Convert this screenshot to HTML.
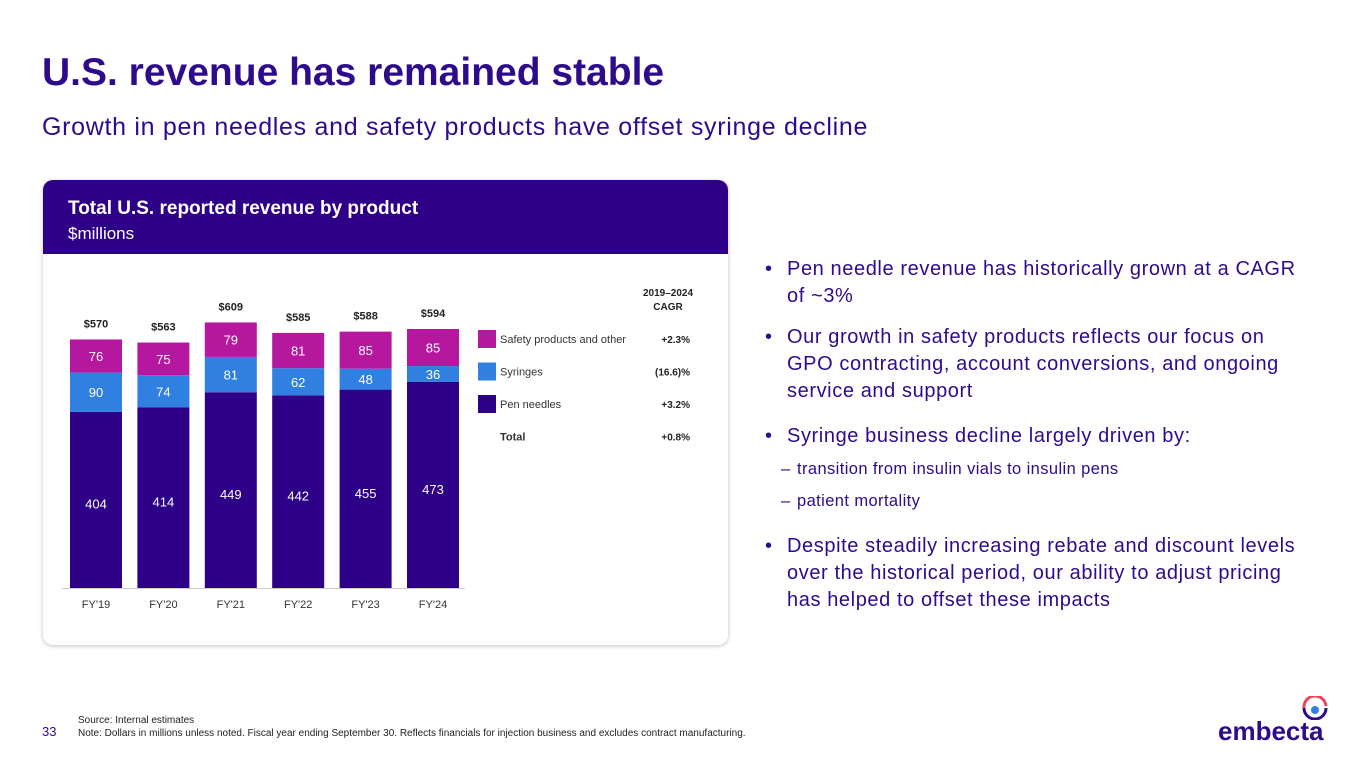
<!DOCTYPE html>
<html><head><meta charset="utf-8"><style>
body{margin:0;width:1365px;height:768px;background:#fff;font-family:"Liberation Sans",sans-serif;position:relative;overflow:hidden}
.abs{position:absolute}
h1{position:absolute;left:42px;top:51px;margin:0;font-size:39px;font-weight:bold;color:#2e0a8c}
.sub{left:42px;top:113px;font-size:25px;color:#2e0a8c;letter-spacing:0.7px}
.card{left:43px;top:180px;width:685px;height:465px;border-radius:10px;box-shadow:0 1px 4px rgba(0,0,0,.25);overflow:hidden;background:#fff}
.hdr{left:0;top:0;width:685px;height:74px;background:#2e0087;color:#fff}
ul{position:absolute;left:765px;top:256px;width:590px;margin:0;padding:0;list-style:none;color:#2e0a8c;font-size:20px;letter-spacing:0.6px;line-height:27px;white-space:nowrap}
li{position:relative;padding-left:22px;margin-bottom:16px}
li:before{content:"•";position:absolute;left:0}
li.d{padding-left:32px;font-size:16.5px;letter-spacing:0.4px;line-height:26px;margin-bottom:6px}
li.d:before{content:"–";left:16px}
.foot{left:78px;top:714px;font-size:10px;color:#222;line-height:13px}
</style></head><body>
<h1>U.S. revenue has remained stable</h1>
<div class="abs sub">Growth in pen needles and safety products have offset syringe decline</div>
<div class="abs card">
 <div class="abs hdr">
  <div class="abs" style="left:25px;top:18px;font-size:19px;font-weight:bold">Total U.S. reported revenue by product</div>
  <div class="abs" style="left:25px;top:44px;font-size:17px">$millions</div>
 </div>
</div>
<svg class="abs" style="left:0;top:0" width="1365" height="768" id="chart"></svg>
<ul>
<li style="margin-bottom:14px">Pen needle revenue has historically grown at a CAGR<br>of ~3%</li>
<li style="margin-bottom:18px">Our growth in safety products reflects our focus on<br>GPO contracting, account conversions, and ongoing<br>service and support</li>
<li style="margin-bottom:6px">Syringe business decline largely driven by:</li>
<li class="d">transition from insulin vials to insulin pens</li>
<li class="d" style="margin-bottom:19px">patient mortality</li>
<li>Despite steadily increasing rebate and discount levels<br>over the historical period, our ability to adjust pricing<br>has helped to offset these impacts</li>
</ul>
<div class="abs" style="left:42px;top:724px;font-size:13px;color:#2e0a8c">33</div>
<div class="abs foot">Source: Internal estimates<br>Note: Dollars in millions unless noted. Fiscal year ending September 30. Reflects financials for injection business and excludes contract manufacturing.</div>
<div class="abs" style="left:1218px;top:716px;font-size:26px;font-weight:bold;color:#2e0a8c">embecta</div>
<svg class="abs" style="left:1300px;top:696px" width="30" height="24"><path d="M4 12 A10 10 0 0 1 26 10" stroke="#e8475a" stroke-width="3" fill="none"/><path d="M4 12 A10 10 0 0 0 26 12" stroke="#2e0a8c" stroke-width="3" fill="none"/><circle cx="15" cy="14" r="4" fill="#2f80e0"/></svg>
<script>
const categories=["FY'19","FY'20","FY'21","FY'22","FY'23","FY'24"];
const penNeedles=[404,414,449,442,455,473];
const syringes=[90,74,81,62,48,36];
const safety=[76,75,79,81,85,85];
const totals=["$570","$563","$609","$585","$588","$594"];
const legendNames=["Safety products and other","Syringes","Pen needles","Total"];
const cagrValues=["+2.3%","(16.6)%","+3.2%","+0.8%"];
const colors=["#b5179e","#2f80e0","#2e0087"];
const svg=document.getElementById('chart');const NS="http://www.w3.org/2000/svg";
const base=588,k=259/594,x0=70,step=67.4,bw=52;
const y=v=>base-v*k, x=i=>x0+i*step;
function mk(t,a,txt){const e=document.createElementNS(NS,t);for(const n in a)e.setAttribute(n,a[n]);if(txt!==undefined)e.textContent=txt;svg.appendChild(e);return e;}
const ax=mk('line',{x1:62,x2:465,y1:base+0.5,y2:base+0.5,stroke:'#ccc'});


categories.forEach((c,i)=>{
 const series=[penNeedles[i],syringes[i],safety[i]];const cols=[colors[2],colors[1],colors[0]];const nm=['pen-needles','syringes','safety'];
 let acc=0;
 series.forEach((v,j)=>{
  const r=mk('rect',{x:x(i),y:y(acc+v),width:bw,height:v*k,fill:cols[j]});
  
  
  const t=mk('text',{x:x(i)+bw/2,y:(j==0? y(acc+v)+ (v*k)*0.52 : y(acc+v)+v*k/2)+5,'text-anchor':'middle','font-size':13,fill:'#fff'},v);
  
  
  acc+=v;
 });
 const tt=mk('text',{x:x(i)+bw/2,y:y(acc)-12,'text-anchor':'middle','font-size':11,'font-weight':'bold',fill:'#222'},totals[i]);
 
 
 const cl=mk('text',{x:x(i)+bw/2,y:608,'text-anchor':'middle','font-size':11,fill:'#333'},c);
 
 
});
const h1=mk('text',{x:668,y:296,'text-anchor':'middle','font-size':10,'font-weight':'bold',fill:'#222'},'2019–2024');


const h2=mk('text',{x:668,y:310,'text-anchor':'middle','font-size':10,'font-weight':'bold',fill:'#222'},'CAGR');


legendNames.forEach((n,i)=>{
 const yy=330+i*32.5;
 if(i<3){const s=mk('rect',{x:478,y:yy,width:18,height:18,fill:colors[i]});
 
 }
 const l=mk('text',{x:500,y:yy+13,'font-size':11,fill:'#333','font-weight':i==3?'bold':'normal'},n);
 
 
 const c=mk('text',{x:690,y:yy+13,'text-anchor':'end','font-size':10,'font-weight':'bold',fill:'#222'},cagrValues[i]);
 
 
});
</script>
</body></html>
